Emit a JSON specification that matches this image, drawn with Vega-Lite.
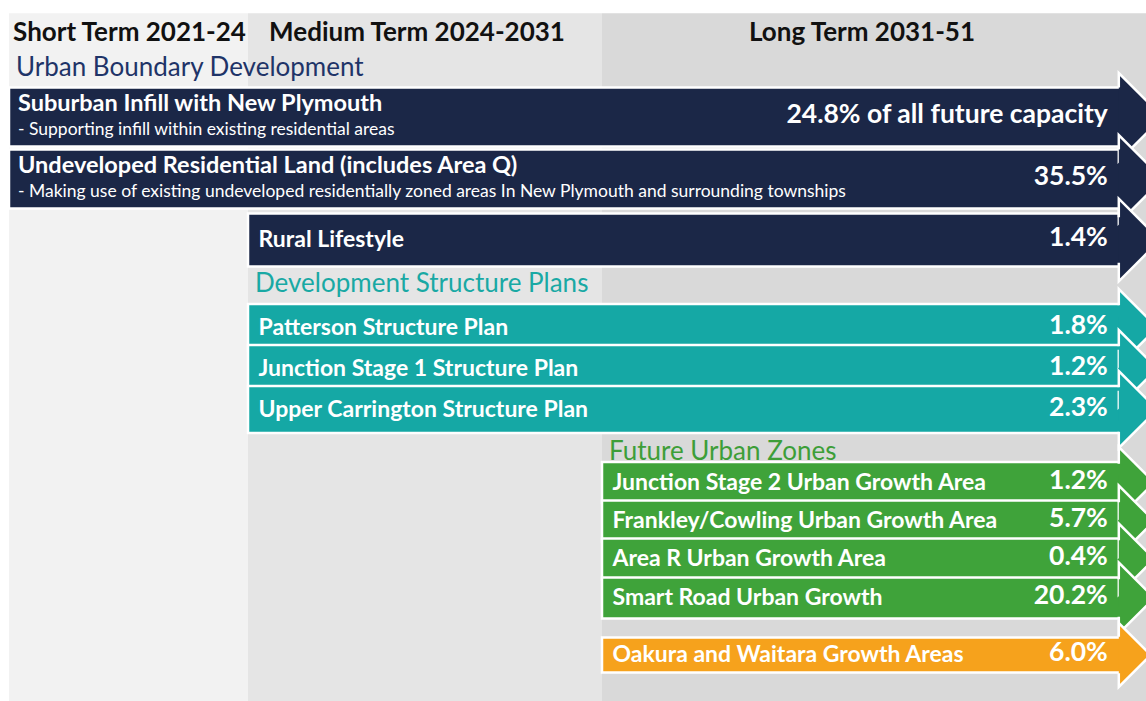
{
  "$schema": "https://vega.github.io/schema/vega-lite/v6.json",
  "width": 1146,
  "height": 701,
  "padding": 0,
  "autosize": {"type": "none"},
  "background": "white",
  "config": {"view": {"stroke": null}, "font": "Lato"},
  "datasets": {
    "panels": [
      {"period": "Short Term", "start": 2021, "end": 2024},
      {"period": "Medium Term", "start": 2024, "end": 2031},
      {"period": "Long Term", "start": 2031, "end": 2051}
    ],
    "periodHeaders": [
      {"period": "Short Term", "text": "Short Term 2021-24", "mid": 2022.5, "slot": 0},
      {"period": "Medium Term", "text": "Medium Term 2024-2031", "mid": 2027.5, "slot": 0},
      {"period": "Long Term", "text": "Long Term 2031-51", "mid": 2041, "slot": 0}
    ],
    "sections": [
      {"text": "Urban Boundary Development", "start": 2021, "slot": 1, "group": "Urban Boundary Development"},
      {"text": "Development Structure Plans", "start": 2024, "slot": 5, "group": "Development Structure Plans"},
      {"text": "Future Urban Zones", "start": 2031, "slot": 9, "group": "Future Urban Zones"}
    ],
    "arrows": [
      {"label": "Suburban Infill with New Plymouth", "sub": "- Supporting infill within existing residential areas", "value": "24.8% of all future capacity", "start": 2021, "slot": 2, "group": "Urban Boundary Development", "kind": "major"},
      {"label": "Undeveloped Residential Land (includes Area Q)", "sub": "- Making use of existing undeveloped residentially zoned areas In New Plymouth and surrounding townships", "value": "35.5%", "start": 2021, "slot": 3, "group": "Urban Boundary Development", "kind": "major"},
      {"label": "Rural Lifestyle", "value": "1.4%", "start": 2024, "slot": 4, "group": "Urban Boundary Development", "kind": "rural"},
      {"label": "Patterson Structure Plan", "value": "1.8%", "start": 2024, "slot": 6, "group": "Development Structure Plans", "kind": "plan"},
      {"label": "Junction Stage 1 Structure Plan", "value": "1.2%", "start": 2024, "slot": 7, "group": "Development Structure Plans", "kind": "plan"},
      {"label": "Upper Carrington Structure Plan", "value": "2.3%", "start": 2024, "slot": 8, "group": "Development Structure Plans", "kind": "plan"},
      {"label": "Junction Stage 2 Urban Growth Area", "value": "1.2%", "start": 2031, "slot": 10, "group": "Future Urban Zones", "kind": "zone"},
      {"label": "Frankley/Cowling Urban Growth Area", "value": "5.7%", "start": 2031, "slot": 11, "group": "Future Urban Zones", "kind": "zone"},
      {"label": "Area R Urban Growth Area", "value": "0.4%", "start": 2031, "slot": 12, "group": "Future Urban Zones", "kind": "zone"},
      {"label": "Smart Road Urban Growth", "value": "20.2%", "start": 2031, "slot": 13, "group": "Future Urban Zones", "kind": "zone"},
      {"label": "Oakura and Waitara Growth Areas", "value": "6.0%", "start": 2031, "slot": 14, "group": "Other Growth Areas", "kind": "growth"}
    ]
  },
  "resolve": {"scale": {"color": "independent", "size": "independent", "shape": "independent"}},
  "layer": [
    {
      "data": {"name": "panels"},
      "mark": {"type": "rect"},
      "encoding": {
        "x": {"field": "start", "type": "quantitative", "axis": null, "scale": {"domain": [2021, 2024, 2031, 2051], "range": [9, 248, 602, 1146], "nice": false, "zero": false}},
        "x2": {"field": "end"},
        "y": {"datum": -1, "type": "quantitative", "axis": null, "scale": {"domain": [-1, 0, 1, 2, 3, 4, 5, 6, 7, 8, 9, 10, 11, 12, 13, 14, 15], "range": [11, 33, 68, 117, 179, 240, 284, 327.5, 368.5, 409.5, 452, 482.5, 521, 559, 598, 655, 701], "nice": false, "zero": false}},
        "y2": {"datum": 16},
        "color": {"field": "period", "type": "nominal", "legend": null, "scale": {"domain": ["Short Term", "Medium Term", "Long Term"], "range": ["#f2f2f2", "#e5e5e5", "#d9d9d9"]}}
      }
    },
    {
      "data": {"name": "periodHeaders"},
      "transform": [{"filter": "datum.period == 'Short Term'"}],
      "mark": {"type": "text", "align": "center", "baseline": "middle", "fontSize": 26, "fontWeight": "bold", "color": "#111111", "dx": 1},
      "encoding": {
        "x": {"field": "mid", "type": "quantitative", "axis": null, "scale": {"domain": [2021, 2024, 2031, 2051], "range": [9, 248, 602, 1146], "nice": false, "zero": false}},
        "y": {"field": "slot", "type": "quantitative", "axis": null, "scale": {"domain": [-1, 0, 1, 2, 3, 4, 5, 6, 7, 8, 9, 10, 11, 12, 13, 14, 15], "range": [11, 33, 68, 117, 179, 240, 284, 327.5, 368.5, 409.5, 452, 482.5, 521, 559, 598, 655, 701], "nice": false, "zero": false}},
        "text": {"field": "text"}
      }
    },
    {
      "data": {"name": "periodHeaders"},
      "transform": [{"filter": "datum.period == 'Medium Term'"}],
      "mark": {"type": "text", "align": "center", "baseline": "middle", "fontSize": 26, "fontWeight": "bold", "color": "#111111", "dx": -8},
      "encoding": {
        "x": {"field": "mid", "type": "quantitative", "axis": null, "scale": {"domain": [2021, 2024, 2031, 2051], "range": [9, 248, 602, 1146], "nice": false, "zero": false}},
        "y": {"field": "slot", "type": "quantitative", "axis": null, "scale": {"domain": [-1, 0, 1, 2, 3, 4, 5, 6, 7, 8, 9, 10, 11, 12, 13, 14, 15], "range": [11, 33, 68, 117, 179, 240, 284, 327.5, 368.5, 409.5, 452, 482.5, 521, 559, 598, 655, 701], "nice": false, "zero": false}},
        "text": {"field": "text"}
      }
    },
    {
      "data": {"name": "periodHeaders"},
      "transform": [{"filter": "datum.period == 'Long Term'"}],
      "mark": {"type": "text", "align": "center", "baseline": "middle", "fontSize": 26, "fontWeight": "bold", "color": "#111111", "dx": -12},
      "encoding": {
        "x": {"field": "mid", "type": "quantitative", "axis": null, "scale": {"domain": [2021, 2024, 2031, 2051], "range": [9, 248, 602, 1146], "nice": false, "zero": false}},
        "y": {"field": "slot", "type": "quantitative", "axis": null, "scale": {"domain": [-1, 0, 1, 2, 3, 4, 5, 6, 7, 8, 9, 10, 11, 12, 13, 14, 15], "range": [11, 33, 68, 117, 179, 240, 284, 327.5, 368.5, 409.5, 452, 482.5, 521, 559, 598, 655, 701], "nice": false, "zero": false}},
        "text": {"field": "text"}
      }
    },
    {
      "data": {"name": "sections"},
      "mark": {"type": "text", "align": "left", "baseline": "middle", "fontSize": 26, "dx": 7},
      "encoding": {
        "x": {"field": "start", "type": "quantitative", "axis": null, "scale": {"domain": [2021, 2024, 2031, 2051], "range": [9, 248, 602, 1146], "nice": false, "zero": false}},
        "y": {"field": "slot", "type": "quantitative", "axis": null, "scale": {"domain": [-1, 0, 1, 2, 3, 4, 5, 6, 7, 8, 9, 10, 11, 12, 13, 14, 15], "range": [11, 33, 68, 117, 179, 240, 284, 327.5, 368.5, 409.5, 452, 482.5, 521, 559, 598, 655, 701], "nice": false, "zero": false}},
        "text": {"field": "text"},
        "color": {"field": "group", "type": "nominal", "legend": null, "scale": {"domain": ["Urban Boundary Development", "Development Structure Plans", "Future Urban Zones"], "range": ["#1f3468", "#19a9a4", "#3d9e38"]}}
      }
    },
    {
      "data": {"name": "arrows"},
      "mark": {"type": "bar", "orient": "horizontal", "stroke": "white", "strokeWidth": 2.5},
      "encoding": {
        "x": {"field": "start", "type": "quantitative", "axis": null, "scale": {"domain": [2021, 2024, 2031, 2051], "range": [9, 248, 602, 1146], "nice": false, "zero": false}},
        "x2": {"datum": 2050.1},
        "y": {"field": "slot", "type": "quantitative", "axis": null, "scale": {"domain": [-1, 0, 1, 2, 3, 4, 5, 6, 7, 8, 9, 10, 11, 12, 13, 14, 15], "range": [11, 33, 68, 117, 179, 240, 284, 327.5, 368.5, 409.5, 452, 482.5, 521, 559, 598, 655, 701], "nice": false, "zero": false}},
        "size": {"field": "kind", "type": "ordinal", "legend": null, "scale": {"domain": ["major", "rural", "plan", "zone", "growth"], "range": [59, 35, 34, 31, 39]}},
        "color": {"field": "group", "type": "nominal", "legend": null, "scale": {"domain": ["Urban Boundary Development", "Development Structure Plans", "Future Urban Zones", "Other Growth Areas"], "range": ["#1b2747", "#15a8a5", "#3fa33a", "#f6a21c"]}}
      }
    },
    {
      "data": {"name": "arrows"},
      "mark": {"type": "point", "filled": true, "opacity": 1, "stroke": "white", "strokeWidth": 2.5},
      "encoding": {
        "x": {"datum": 2050, "type": "quantitative", "axis": null, "scale": {"domain": [2021, 2024, 2031, 2051], "range": [9, 248, 602, 1146], "nice": false, "zero": false}},
        "y": {"field": "slot", "type": "quantitative", "axis": null, "scale": {"domain": [-1, 0, 1, 2, 3, 4, 5, 6, 7, 8, 9, 10, 11, 12, 13, 14, 15], "range": [11, 33, 68, 117, 179, 240, 284, 327.5, 368.5, 409.5, 452, 482.5, 521, 559, 598, 655, 701], "nice": false, "zero": false}},
        "shape": {"field": "kind", "type": "ordinal", "legend": null, "scale": {"domain": ["major", "rural", "plan", "zone", "growth"], "range": ["M0,-0.67L0,-1L1,0L0,1L0,0.67", "M0,-0.55L0,-1L1,0L0,1L0,0.55", "M0,-0.58L0,-1L1,0L0,1L0,0.58", "M0,-0.53L0,-1L1,0L0,1L0,0.53", "M0,-0.57L0,-1L1,0L0,1L0,0.57"]}},
        "size": {"field": "kind", "type": "ordinal", "legend": null, "scale": {"domain": ["major", "rural", "plan", "zone", "growth"], "range": [7744, 4096, 3481, 3364, 4624]}},
        "color": {"field": "group", "type": "nominal", "legend": null, "scale": {"domain": ["Urban Boundary Development", "Development Structure Plans", "Future Urban Zones", "Other Growth Areas"], "range": ["#1b2747", "#15a8a5", "#3fa33a", "#f6a21c"]}}
      }
    },
    {
      "data": {"name": "arrows"},
      "transform": [{"filter": "datum.sub != null"}],
      "mark": {"type": "text", "align": "left", "baseline": "middle", "dx": 9, "dy": -13, "fontSize": 23.5, "fontWeight": "bold", "color": "white"},
      "encoding": {
        "x": {"field": "start", "type": "quantitative", "axis": null, "scale": {"domain": [2021, 2024, 2031, 2051], "range": [9, 248, 602, 1146], "nice": false, "zero": false}},
        "y": {"field": "slot", "type": "quantitative", "axis": null, "scale": {"domain": [-1, 0, 1, 2, 3, 4, 5, 6, 7, 8, 9, 10, 11, 12, 13, 14, 15], "range": [11, 33, 68, 117, 179, 240, 284, 327.5, 368.5, 409.5, 452, 482.5, 521, 559, 598, 655, 701], "nice": false, "zero": false}},
        "text": {"field": "label"}
      }
    },
    {
      "data": {"name": "arrows"},
      "transform": [{"filter": "datum.sub != null"}],
      "mark": {"type": "text", "align": "left", "baseline": "middle", "dx": 9, "dy": 13, "fontSize": 17.5, "color": "white"},
      "encoding": {
        "x": {"field": "start", "type": "quantitative", "axis": null, "scale": {"domain": [2021, 2024, 2031, 2051], "range": [9, 248, 602, 1146], "nice": false, "zero": false}},
        "y": {"field": "slot", "type": "quantitative", "axis": null, "scale": {"domain": [-1, 0, 1, 2, 3, 4, 5, 6, 7, 8, 9, 10, 11, 12, 13, 14, 15], "range": [11, 33, 68, 117, 179, 240, 284, 327.5, 368.5, 409.5, 452, 482.5, 521, 559, 598, 655, 701], "nice": false, "zero": false}},
        "text": {"field": "sub"}
      }
    },
    {
      "data": {"name": "arrows"},
      "transform": [{"filter": "datum.sub == null"}],
      "mark": {"type": "text", "align": "left", "baseline": "middle", "dx": 10.5, "fontSize": 23, "fontWeight": "bold", "color": "white"},
      "encoding": {
        "x": {"field": "start", "type": "quantitative", "axis": null, "scale": {"domain": [2021, 2024, 2031, 2051], "range": [9, 248, 602, 1146], "nice": false, "zero": false}},
        "y": {"field": "slot", "type": "quantitative", "axis": null, "scale": {"domain": [-1, 0, 1, 2, 3, 4, 5, 6, 7, 8, 9, 10, 11, 12, 13, 14, 15], "range": [11, 33, 68, 117, 179, 240, 284, 327.5, 368.5, 409.5, 452, 482.5, 521, 559, 598, 655, 701], "nice": false, "zero": false}},
        "text": {"field": "label"}
      }
    },
    {
      "data": {"name": "arrows"},
      "mark": {"type": "text", "align": "right", "baseline": "middle", "dx": -11, "dy": -2, "fontSize": 26.5, "fontWeight": "bold", "color": "white"},
      "encoding": {
        "x": {"datum": 2050, "type": "quantitative", "axis": null, "scale": {"domain": [2021, 2024, 2031, 2051], "range": [9, 248, 602, 1146], "nice": false, "zero": false}},
        "y": {"field": "slot", "type": "quantitative", "axis": null, "scale": {"domain": [-1, 0, 1, 2, 3, 4, 5, 6, 7, 8, 9, 10, 11, 12, 13, 14, 15], "range": [11, 33, 68, 117, 179, 240, 284, 327.5, 368.5, 409.5, 452, 482.5, 521, 559, 598, 655, 701], "nice": false, "zero": false}},
        "text": {"field": "value"}
      }
    }
  ]
}
